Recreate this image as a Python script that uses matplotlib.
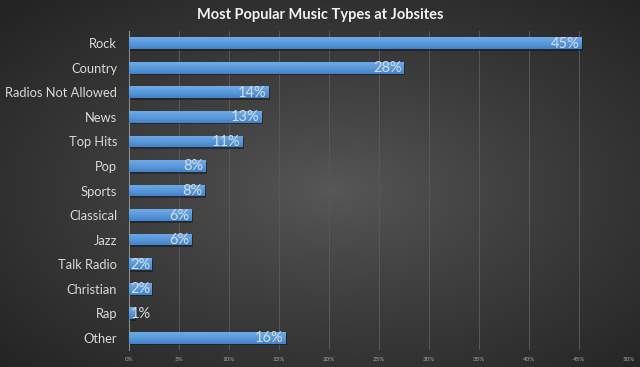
import numpy as np
import matplotlib
matplotlib.use("Agg")
import matplotlib.pyplot as plt
from matplotlib.colors import LinearSegmentedColormap

categories = ["Rock", "Country", "Radios Not Allowed", "News", "Top Hits", "Pop",
              "Sports", "Classical", "Jazz", "Talk Radio", "Christian", "Rap", "Other"]
values = [45.3, 27.5, 14.0, 13.3, 11.4, 7.7, 7.6, 6.3, 6.3, 2.3, 2.3, 0.6, 15.7]
xticks = [0, 5, 10, 15, 20, 25, 30, 35, 40, 45, 50]
title = "Most Popular Music Types at Jobsites"

plt.rcParams['font.family'] = ['Lato', 'DejaVu Sans']

fig = plt.figure(figsize=(6.4, 3.67), dpi=100)

# background radial gradient
bg = fig.add_axes([0, 0, 1, 1], zorder=0)
yy, xx = np.mgrid[0:1:367j, 0:1:640j]
r = np.sqrt(((xx - 0.52) / 0.5) ** 2 + ((yy - 0.48) / 0.5) ** 2) / np.sqrt(2)
val = (88 - 52 * np.clip(r, 0, 1) ** 0.85) / 255.0
bg.imshow(np.dstack([val, val, val]), aspect='auto', extent=[0, 1, 0, 1], origin='lower')
bg.set_axis_off()

ax = fig.add_axes([129 / 640, 1 - 350 / 367, 500 / 640, 319 / 367], zorder=1)
ax.patch.set_alpha(0)

n = len(categories)
ypos = np.arange(n)
h = 0.48

# shadow
ax.barh(ypos + 0.07, values, height=h, left=0.12, color='#151515', alpha=0.5, zorder=2)
bars = ax.barh(ypos, values, height=h, color='#5596d8', edgecolor='none', zorder=3)

grad = np.linspace(0, 1, 50).reshape(-1, 1)
cmap = LinearSegmentedColormap.from_list('b', ['#6eaae6', '#5a9adb', '#4182ca'])
for b, v, y in zip(bars, values, ypos):
    im = ax.imshow(grad, cmap=cmap, aspect='auto', extent=[0, v, y + h / 2, y - h / 2],
                   origin='upper', zorder=4)
    im.set_clip_path(b)

for v, y in zip(values, ypos):
    xr = max(v - 0.25, 2.15)
    ax.text(xr, y + 0.02, f"{round(v):.0f}%", ha='right', va='center', color='#d3dde9',
            fontsize=10.5, zorder=6)

ax.set_xlim(0, 50)
ax.set_ylim(n - 0.5, -0.5)
ax.set_xticks(xticks)
ax.set_xticklabels([f"{t}%" for t in xticks], fontsize=4.5, color='#a8a8a8')
ax.set_yticks(ypos)
ax.set_yticklabels(categories, fontsize=9.3, color='#d9d9d9')
ax.tick_params(axis='both', length=0)
ax.tick_params(axis='y', pad=8.5)
ax.tick_params(axis='x', pad=5)
ax.grid(axis='x', color='#585858', linewidth=0.7, zorder=1)
ax.set_axisbelow(True)
for s in ['top', 'right', 'bottom']:
    ax.spines[s].set_visible(False)
ax.spines['left'].set_color('#8a8a8a')
ax.spines['left'].set_linewidth(0.8)

fig.text(0.5, 1 - 15 / 367, title, ha='center', va='center', color='#f2f2f2',
         fontsize=10.5, fontweight='bold')

fig.savefig("out.png", dpi=100)
